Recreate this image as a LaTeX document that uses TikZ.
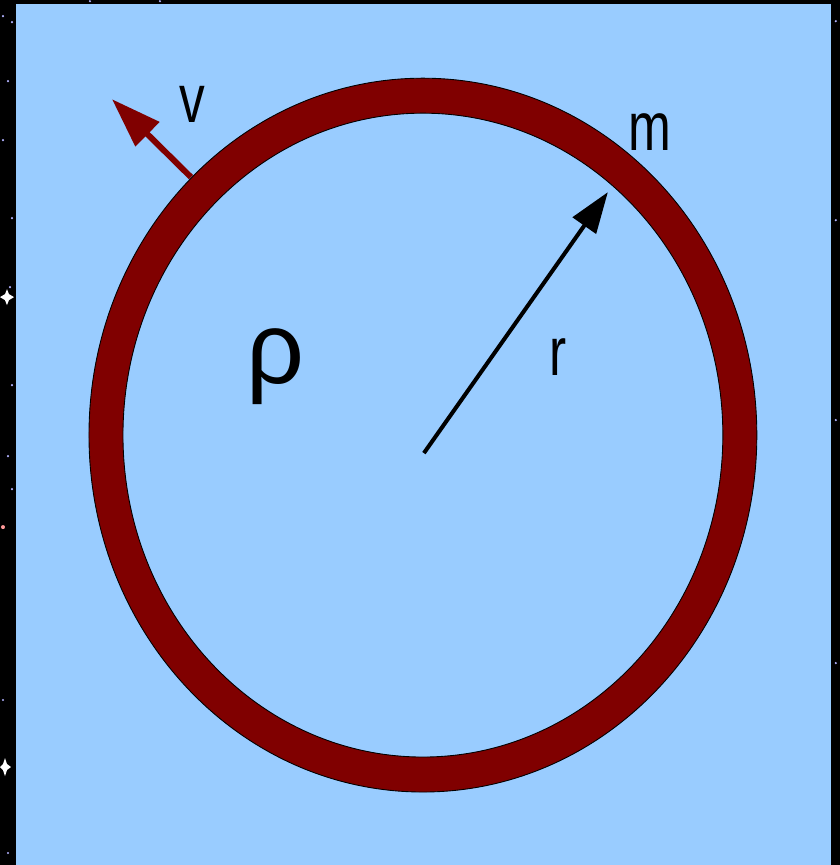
\documentclass[tikz,border=0pt]{standalone}
\usepackage{fontspec}
\setmainfont{Liberation Sans}
\newfontfamily\narrowfont[FakeStretch=0.75]{Liberation Sans}
\usepackage{xcolor}
\usepackage{tikz}
\usetikzlibrary{arrows.meta}

\definecolor{skyblue}{HTML}{99CCFF}
\definecolor{ringred}{HTML}{800000}

\begin{document}
\begin{tikzpicture}[
    x=0.02cm, y=-0.02cm,
    ring/.style={fill=ringred, draw=black, line width=0.5pt, even odd rule},
    lbl/.style={anchor=base, inner sep=0pt, font=\narrowfont\fontsize{39}{39}\selectfont},
    radius_arrow/.style={draw=black, line width=2.3pt, -{Triangle[length=8.2mm, width=5.6mm]}},
    speed_arrow/.style={draw=ringred, line width=3.4pt, -{Triangle[length=10mm, width=6.6mm]}},
    star/.style={fill=white!70!blue}
]
    % Sky and window
    \fill[black] (0, 0) rectangle (840, 865);
    \fill[skyblue] (16, 4) rectangle (831, 865);

    % Stars in the border
    \fill[star] (3, 16) circle (1.2);
    \fill[star] (12, 22) circle (1.2);
    \fill[star] (8, 81) circle (1.2);
    \fill[star] (3, 140) circle (1.2);
    \fill[star] (12, 218) circle (1.2);
    \fill[star] (10, 287) circle (1.2);
    \fill[star] (12, 385) circle (1.2);
    \fill[star] (8, 456) circle (1.2);
    \fill[star] (12, 489) circle (1.2);
    \fill[star] (3, 700) circle (1.2);
    \fill[star] (8, 853) circle (1.2);
    \fill[star] (90, 1) circle (1.2);
    \fill[star] (160, 1) circle (1.2);
    \fill[star] (836, 21) circle (1.2);
    \fill[star] (836, 220) circle (1.2);
    \fill[star] (836, 420) circle (1.2);
    \fill[star] (836, 663) circle (1.2);
    \fill[white] (7, 297) -- (9, 294) -- (7, 289) -- (5, 294) -- (0, 297) -- (5, 300) -- (7, 305) -- (9, 300) -- (14, 297) -- (9, 294) -- cycle;
    \fill[white] (5, 767) -- (7, 764) -- (5, 758) -- (3, 764) -- (0, 767) -- (3, 770) -- (5, 776) -- (7, 770) -- (11, 767) -- (7, 764) -- cycle;
    \fill[white!60!red] (3, 527) circle (2);

    % Ring of mass m
    \coordinate (centre) at (423, 435);
    \fill[ring] (centre) ellipse (334 and 357) (centre) ellipse (300 and 322);

    % Radius and velocity
    \coordinate (r_tail) at (424, 453);
    \coordinate (r_tip) at (608, 192);
    \coordinate (v_tail) at (191, 177);
    \coordinate (v_tip) at (112, 99);
    \draw [radius_arrow] (r_tail) -- (r_tip);
    \draw [speed_arrow] (v_tail) -- (v_tip);

    % Labels
    \node (v_label) [lbl] at (192, 122) {v};
    \node (m_label) [lbl] at (650, 150) {m};
    \node (r_label) [lbl] at (558, 375) {r};
    \node (rho_label) [lbl, font=\fontsize{58}{58}\selectfont] at (276, 383) {ρ};
\end{tikzpicture}
\end{document}
